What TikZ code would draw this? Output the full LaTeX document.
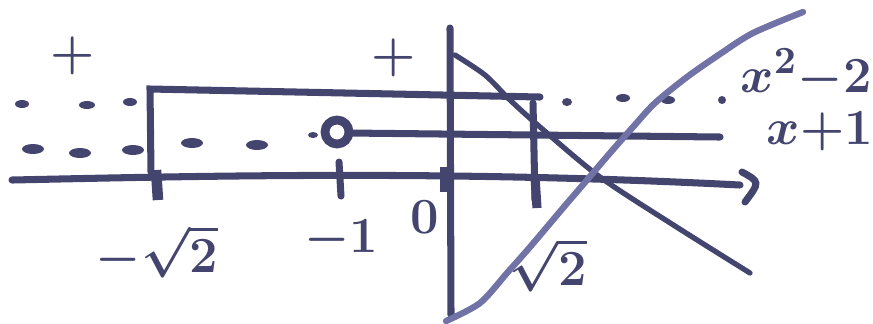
\documentclass[tikz,border=0pt]{standalone}
\usepackage{amsmath}
\usepackage{xcolor}
\usepackage{tikz}
\definecolor{ink}{HTML}{44456F}
\definecolor{lightink}{HTML}{7172A6}

\begin{document}
\begin{tikzpicture}[x=0.01cm,y=-0.01cm,
    pen/.style={line width=2pt,ink,line cap=round},
    thinpen/.style={line width=1.5pt,ink,line cap=round},
    lab/.style={ink,inner sep=0pt,font=\fontsize{15}{17}\selectfont\boldmath}]
    \useasboundingbox (0,0) rectangle (873,323);
        \draw[pen](12,180) .. controls (200,176) and (450,170) .. (740,185);
        \draw[pen](742,172) .. controls (760,182) .. (745,202);
        \draw[line width=3pt,ink](156,170)--(158,200);
        \draw[pen](339,162)--(341,196);
        \draw[line width=3.2pt,ink](446,167)--(446,192);
        \draw[line width=2.6pt,ink](535,177)--(537,208);
        \draw[pen](450,28)--(451,315);
        \draw[pen](151,172)--(150,89)--(540,97);
        \draw[pen](533,103)--(535,200);
        \foreach \x/\y/\r in {22/104/7,87/105/8,130/102/7,567/102/5,623/98/7,668/100/7,722/100/4}
            \fill[ink](\x,\y) ellipse [x radius=\r, y radius=4];
        \foreach \x/\y in {33/149,80/153,133/150,192/143,257/145}
            \fill[ink](\x,\y) ellipse [x radius=11, y radius=5];
        \fill[ink](313,135) ellipse [x radius=5, y radius=3];
        \draw[line width=2.5pt,ink](337,132) circle [radius=12];
        \draw[pen](349,133)--(720,137);
        \draw[thinpen] plot[smooth] coordinates {(455,55) (485,75) (510,100) (540,127) (600,177) (675,226) (750,273)};
        \draw[line width=1.8pt,lightink,line cap=round] plot[smooth] coordinates {(446,321) (480,303) (507,273) (530,247) (563,208) (587,180) (610,153) (633,127) (655,103) (687,77) (720,54) (753,33) (803,12)};
        \node[lab] (plusleft) at (73,56) {$+$};
        \node[lab] (plusmid) at (394,58) {$+$};
        \node[lab] (lblmsqrt) at (157,252) {$-\sqrt{2}$};
        \node[lab] (lblmone) at (341,240) {$-1$};
        \node[lab] (lblzero) at (425,217) {$0$};
        \node[lab] (lblsqrt) at (548,265) {$\sqrt{2}$};
        \node[lab] (lblquad) at (806,74) {$x^2{-}2$};
        \node[lab] (lbllin) at (820,131) {$x{+}1$};
    \end{tikzpicture}
\end{document}
